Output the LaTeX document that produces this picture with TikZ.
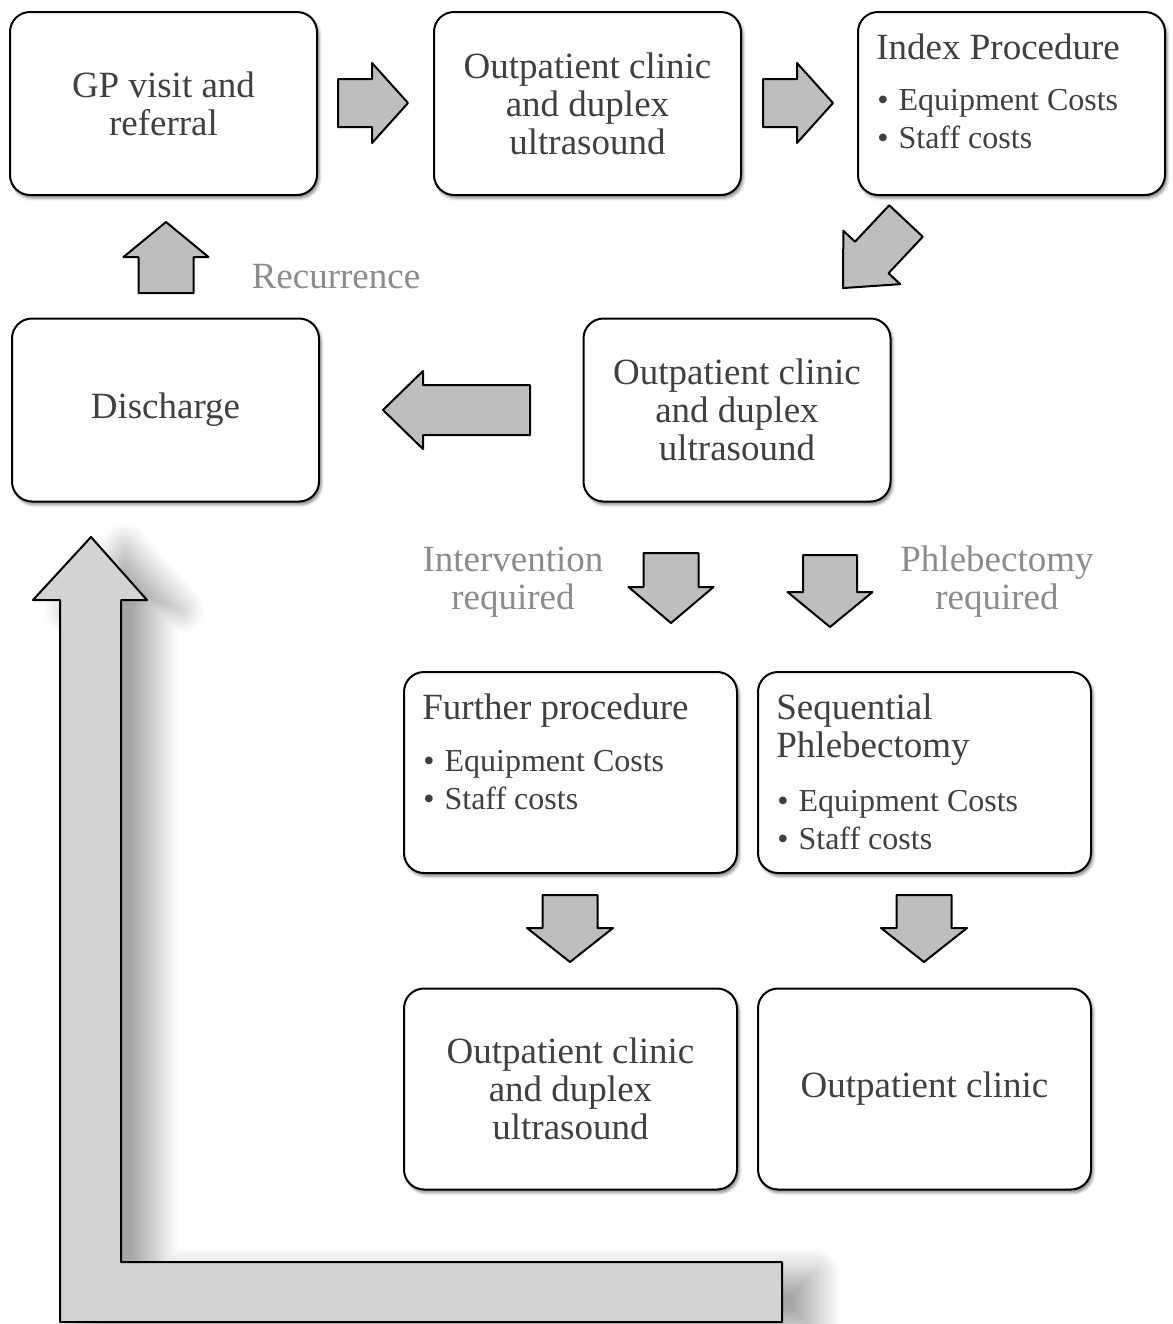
\documentclass[tikz,border=0pt]{standalone}
\usepackage{fontspec}
\setmainfont{Liberation Serif}
\usetikzlibrary{positioning,shadows.blur}

\definecolor{txt}{RGB}{64,64,64}
\definecolor{lbl}{RGB}{140,140,140}
\definecolor{arrowgray}{RGB}{190,190,190}
\definecolor{biggray}{RGB}{211,211,211}

\newcommand{\bigtxt}{\fontsize{18.5}{19}\selectfont}
\newcommand{\smalltxt}{\fontsize{16}{19}\selectfont}

\tikzset{
  card/.style={draw, line width=1pt, rounded corners=10pt, fill=white, text=txt, font=\bigtxt,
    align=center, minimum width=153.5pt, minimum height=91.5pt,
    blur shadow={shadow xshift=1pt, shadow yshift=-1.5pt, shadow blur radius=1.5pt, shadow opacity=50}},
  widecard/.style={card, minimum width=166.5pt, minimum height=100.5pt},
  title/.style={anchor=base west, inner sep=0pt, text=txt, font=\bigtxt, align=left},
  bullets/.style={anchor=base west, inner sep=0pt, text=txt, font=\smalltxt, align=left},
  note/.style={text=lbl, font=\bigtxt, align=center},
  arrowbody/.style={draw, line width=1pt, line join=round, fill=arrowgray},
  pics/blockarrow/.style n args={4}{code={
    \draw[arrowbody] (0,-#3) -- (#1-#2,-#3) -- (#1-#2,-#4) -- (#1,0) -- (#1-#2,#4) -- (#1-#2,#3) -- (0,#3) -- cycle;
  }}
}

\begin{document}
\begin{tikzpicture}[x=0.5pt, y=-0.5pt]
    %\draw [help lines, thin] (0, 0) grid[step=100] (1173, 1324);
    \useasboundingbox (0,0) rectangle (1173,1324);
    % big return arrow
    \draw[line width=1pt, line join=round, fill=biggray,
      blur shadow={shadow xshift=17pt, shadow yshift=-5pt, shadow blur radius=12pt,
        shadow blur steps=24, shadow opacity=35}]
      (91,537) -- (147,600) -- (121,600) -- (121,1262) -- (782,1262) -- (782,1322)
      -- (60,1322) -- (60,600) -- (33,600) -- cycle;

    \node[card] (gp) at (163.5,103.5) {GP visit and\\referral};
    \node[card] (clinicA) at (587.5,103.5) {Outpatient clinic\\and duplex\\ultrasound};
    \node[card] (index) at (1011.5,103.5) {};
    \node[title] (indexT) at ([shift={(19,48)}]index.north west) {Index Procedure};
    \node[bullets] (indexB) at ([shift={(20,137)}]index.north west) {\textbullet\hspace{5pt}Equipment Costs\\\textbullet\hspace{5pt}Staff costs};

    \node[card] (clinicB) at (737,410) {Outpatient clinic\\and duplex\\ultrasound};
    \node[card] (discharge) at (165.5,410) {Discharge};

    \node[widecard] (further) at (570.5,772.5) {};
    \node[title] (furtherT) at ([shift={(19,48)}]further.north west) {Further procedure};
    \node[bullets] (furtherB) at ([shift={(20,138)}]further.north west) {\textbullet\hspace{5pt}Equipment Costs\\\textbullet\hspace{5pt}Staff costs};

    \node[widecard] (seq) at (924.5,772.5) {};
    \node[title] (seqT) at ([shift={(19,86)}]seq.north west) {Sequential\\Phlebectomy};
    \node[bullets] (seqB) at ([shift={(20,178)}]seq.north west) {\textbullet\hspace{5pt}Equipment Costs\\\textbullet\hspace{5pt}Staff costs};

    \node[widecard] (clinicC) at (570.5,1089) {Outpatient clinic\\and duplex\\ultrasound};
    \node[widecard] (clinicD) at (924.5,1089) {Outpatient clinic};

    \node[note] (recur) at (336,277) {Recurrence};
    \node[note] (interv) at (513,582) {Intervention\\required};
    \node[note] (phleb) at (997,582) {Phlebectomy\\required};

    \pic at (338,103) {blockarrow={70}{36}{24}{40}};
    \pic at (763,103) {blockarrow={70}{36}{24}{40}};
    \pic[rotate=-133.2] at (906,221) {blockarrow={92}{42}{23}{39}};
    \pic[rotate=180] at (530,410) {blockarrow={147}{40}{25}{39}};
    \pic[rotate=90] at (166,293) {blockarrow={71}{35}{27.5}{42.5}};
    \pic[rotate=-90] at (671,553) {blockarrow={70}{36}{27.5}{42.5}};
    \pic[rotate=-90] at (830,555) {blockarrow={72}{35}{27}{42.5}};
    \pic[rotate=-90] at (570,895) {blockarrow={67}{34}{27.5}{43}};
    \pic[rotate=-90] at (924,895) {blockarrow={67}{34}{27.5}{43}};
\end{tikzpicture}
\end{document}
